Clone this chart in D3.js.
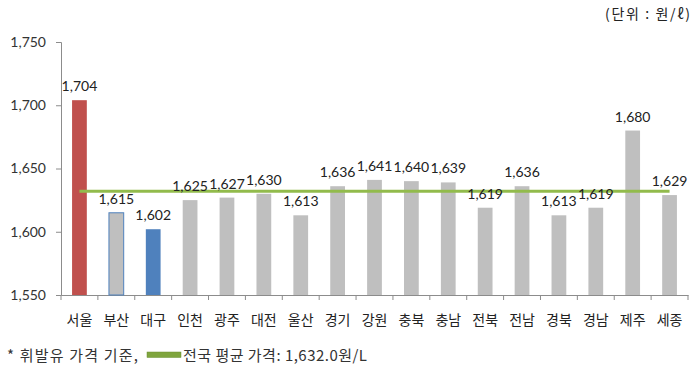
<!DOCTYPE html>
<html><head><meta charset="utf-8">
<script src="https://cdn.jsdelivr.net/npm/d3@7"></script>
<style>body{margin:0;background:#fff}</style>
</head><body>
<svg id="c" width="698" height="366"></svg>
<script>
const categories = ["서울","부산","대구","인천","광주","대전","울산","경기","강원","충북","충남","전북","전남","경북","경남","제주","세종"];
const values = [1704,1615,1602,1625,1627,1630,1613,1636,1641,1640,1639,1619,1636,1613,1619,1680,1629];
const average = 1632.0;
const yTicks = [1550,1600,1650,1700,1750];
const unitLabel = "(단위 : 원/ℓ)";
const footPrefix = "* 휘발유 가격 기준,";
const footLegend = "전국 평균 가격: 1,632.0원/L";

(function(){
const svg = d3.select("#c");
const mLeft = 61, mRight = 688, mTop = 42, mBottom = 295;
const x = d3.scaleBand().domain(categories).range([mLeft, mRight]).paddingInner(0.6).paddingOuter(0.3);
const y = d3.scaleLinear().domain([1550,1750]).range([mBottom, mTop]);

// y axis
const ya = svg.append("g").attr("transform",`translate(${mLeft},0)`)
  .call(d3.axisLeft(y).tickValues(yTicks).tickSize(5).tickPadding(10).tickFormat(d3.format(",")));
ya.select(".domain").attr("stroke","#8c8c8c");
ya.selectAll(".tick line").attr("stroke","#8c8c8c");
ya.selectAll("text").attr("font-family","Lato, sans-serif").attr("font-size",14).attr("fill","#333");

// x axis
const xa = svg.append("g").attr("transform",`translate(0,${mBottom})`)
  .call(d3.axisBottom(x).tickSize(0).tickPadding(20));
xa.select(".domain").attr("stroke","#8c8c8c");
xa.selectAll("text").attr("font-family","'Noto Sans CJK KR', sans-serif").attr("font-size",14).attr("fill","#222");
const bounds = d3.range(categories.length+1).map(i => mLeft + i*(mRight-mLeft)/categories.length);
xa.selectAll(".bt").data(bounds).enter().append("line")
  .attr("x1",d=>d).attr("x2",d=>d).attr("y1",0).attr("y2",5).attr("stroke","#8c8c8c");

// bars
const fill = (d,i) => i===0 ? "#c0504d" : i===2 ? "#4f81bd" : "#bfbfbf";
svg.append("g").selectAll("rect").data(values).enter().append("rect")
  .attr("x",(d,i)=>x(categories[i]))
  .attr("y",d=>y(d))
  .attr("width",x.bandwidth())
  .attr("height",d=>mBottom-y(d))
  .attr("fill",fill)
  .attr("stroke",(d,i)=> i===1 ? "#4f81bd" : "none")
  .attr("stroke-width",1);

// average line
svg.append("line")
  .attr("x1",x(categories[0])+x.bandwidth()/2)
  .attr("x2",x(categories[categories.length-1])+x.bandwidth()/2)
  .attr("y1",y(average)).attr("y2",y(average))
  .attr("stroke","#92bb4c").attr("stroke-width",3);

// labels
svg.append("g").selectAll("text").data(values).enter().append("text")
  .attr("x",(d,i)=>x(categories[i])+x.bandwidth()/2)
  .attr("y",d=>y(d)-9)
  .attr("text-anchor","middle")
  .attr("font-family","Lato, sans-serif").attr("font-size",14).attr("fill","#222")
  .text(d=>d3.format(",")(d));

// unit
svg.append("text").attr("x",605).attr("y",19)
  .attr("textLength",85).attr("lengthAdjust","spacing")
  .attr("font-family","'Noto Sans CJK KR', sans-serif").attr("font-size",14).attr("fill","#222")
  .text(unitLabel);

// footnote
svg.append("text").attr("x",7).attr("y",361)
  .attr("textLength",131).attr("lengthAdjust","spacing")
  .attr("font-family","'Noto Sans CJK KR', sans-serif").attr("font-size",15).attr("fill","#333")
  .text(footPrefix);
svg.append("rect").attr("x",147).attr("y",352).attr("width",34).attr("height",5.5).attr("fill","#7fa53e").attr("stroke","#6b8f33").attr("stroke-width",0.5);
svg.append("text").attr("x",183).attr("y",361)
  .attr("textLength",184).attr("lengthAdjust","spacing")
  .attr("font-family","'Noto Sans CJK KR', sans-serif").attr("font-size",15).attr("fill","#333")
  .text(footLegend);
})();
</script>
</body></html>
